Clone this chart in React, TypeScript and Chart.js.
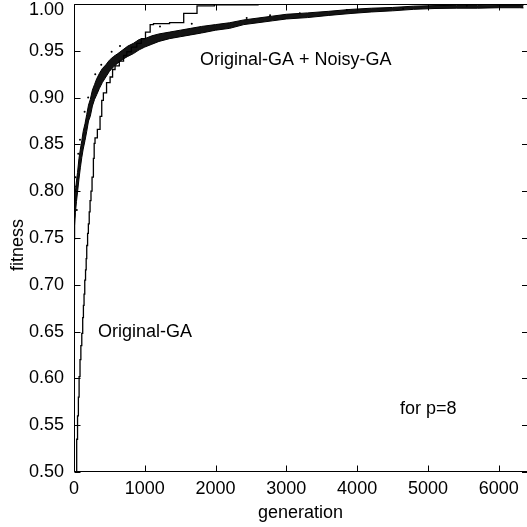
import React, { useEffect, useRef } from "react";
import { Chart, registerables } from "chart.js";

Chart.register(...registerables);

// ---- data ----
const xTickValues = [0, 1000, 2000, 3000, 4000, 5000, 6000];
const yTickValues = [0.5, 0.55, 0.6, 0.65, 0.7, 0.75, 0.8, 0.85, 0.9, 0.95, 1.0];

// Original-GA (best-so-far fitness, step curve)
const gaGen = [
  0, 38, 50, 62, 72, 85, 97, 110, 123, 133, 142, 152, 163, 172, 180, 192, 203, 215, 227, 240,
  255, 274, 285, 297, 330, 368, 392, 415, 460, 510, 545, 580, 640, 700, 746, 810, 887, 950,
  1010, 1076, 1123, 1350, 1550, 1738, 1983, 2600, 3100, 6400,
];
const gaFit = [
  0.3, 0.5, 0.535, 0.56, 0.58, 0.602, 0.62, 0.635, 0.648, 0.665, 0.678, 0.69, 0.705, 0.716,
  0.728, 0.742, 0.755, 0.765, 0.778, 0.79, 0.8, 0.815, 0.835, 0.851, 0.857, 0.866, 0.88, 0.897,
  0.905, 0.916, 0.922, 0.93, 0.934, 0.939, 0.945, 0.949, 0.954, 0.958, 0.963, 0.97, 0.978,
  0.979, 0.98, 0.99, 0.998, 0.999, 1.0, 1.0,
];

// Original-GA + Noisy-GA (noisy band: lower / upper envelope)
const noisyGen = [
  0, 10, 20, 35, 50, 70, 90, 110, 130, 155, 180, 205, 230, 260, 290, 320, 360, 400, 450, 500,
  560, 620, 690, 760, 840, 920, 1000, 1100, 1200, 1350, 1500, 1650, 1800, 2000, 2200, 2400,
  2600, 2800, 3000, 3300, 3600, 3900, 4200, 4500, 4800, 5100, 5400, 5700, 6000, 6300, 6350,
];
const noisyLow = [
  0.748, 0.763, 0.777, 0.789, 0.799, 0.813, 0.825, 0.836, 0.845, 0.854, 0.864, 0.875, 0.88,
  0.891, 0.898, 0.903, 0.91, 0.916, 0.922, 0.928, 0.933, 0.937, 0.941, 0.944, 0.947, 0.951,
  0.954, 0.957, 0.96, 0.963, 0.965, 0.967, 0.969, 0.972, 0.974, 0.978, 0.98, 0.982, 0.984,
  0.9855, 0.9878, 0.9898, 0.9915, 0.9927, 0.9943, 0.9952, 0.9955, 0.9955, 0.996, 0.996, 0.9958,
];
const noisyHigh = [
  0.772, 0.787, 0.8, 0.811, 0.82, 0.835, 0.845, 0.854, 0.864, 0.872, 0.882, 0.892, 0.898,
  0.908, 0.914, 0.92, 0.926, 0.931, 0.935, 0.94, 0.944, 0.947, 0.951, 0.955, 0.958, 0.962,
  0.963, 0.966, 0.968, 0.97, 0.972, 0.974, 0.976, 0.978, 0.98, 0.983, 0.985, 0.987, 0.989,
  0.9905, 0.9922, 0.9942, 0.9955, 0.9963, 0.9977, 0.9983, 0.9985, 0.9985, 0.999, 0.999, 0.9985,
];
// scattered noisy points lying off the dense band
const outlierGen = [85, 60, 150, 385, 532, 650, 1215, 1664, 2440, 2770, 3190, 3855, 4650, 5550, 300, 200, 20, 40, 5, 12];
const outlierFit = [0.855, 0.84, 0.885, 0.935, 0.949, 0.955, 0.976, 0.979, 0.985, 0.988, 0.99, 0.9936, 0.995, 0.998, 0.925, 0.9, 0.815, 0.78, 0.79, 0.805];

// text labels (data coordinates)
const annotationTexts = ["Original-GA + Noisy-GA", "Original-GA", "for p=8"];
const annotationGen = [1780, 339, 4606];
const annotationFit = [0.935, 0.644, 0.562];

const xTitle = "generation";
const yTitle = "fitness";

const FONT = '"Liberation Sans", Arial, Helvetica, sans-serif';

const framePlugin = {
  id: "frameAndText",
  afterDatasetsDraw(chart: any) {
    const { ctx, chartArea, scales } = chart;
    const { left, right, top, bottom } = chartArea;
    ctx.save();
    ctx.strokeStyle = "#000";
    ctx.lineWidth = 1;
    const L = Math.round(left) + 0.5;
    const B = Math.round(bottom) - 0.5;
    const T = Math.round(top) + 0.5;
    const R = Math.round(right) - 0.5;
    ctx.beginPath();
    ctx.moveTo(L, T);
    ctx.lineTo(R + 0.5, T);
    ctx.moveTo(L, T);
    ctx.lineTo(L, B);
    ctx.lineTo(R + 0.5, B);
    ctx.stroke();
    // inward ticks
    ctx.beginPath();
    const tl = 6;
    xTickValues.forEach((v) => {
      const px = Math.round(scales.x.getPixelForValue(v)) + 0.5;
      ctx.moveTo(px, B);
      ctx.lineTo(px, B - tl);
      ctx.moveTo(px, T);
      ctx.lineTo(px, T + tl);
    });
    yTickValues.forEach((v) => {
      const py = Math.round(scales.y.getPixelForValue(v)) + 0.5;
      ctx.moveTo(L, py);
      ctx.lineTo(L + tl, py);
      ctx.moveTo(right, py);
      ctx.lineTo(right - 5, py);
    });
    ctx.stroke();

    ctx.fillStyle = "#000";
    ctx.font = `18px ${FONT}`;

    // y tick labels (kept inside the picture at the top)
    ctx.textAlign = "right";
    ctx.textBaseline = "middle";
    yTickValues.forEach((v) => {
      const py = Math.max(scales.y.getPixelForValue(v), 10);
      ctx.fillText(v.toFixed(2), left - 10, py);
    });

    // annotations
    ctx.textBaseline = "alphabetic";
    ctx.textAlign = "left";
    annotationTexts.forEach((t, i) => {
      ctx.fillText(t, scales.x.getPixelForValue(annotationGen[i]), scales.y.getPixelForValue(annotationFit[i]));
    });
    ctx.textAlign = "center";
    ctx.fillText(xTitle, (left + right) / 2, 518);
    ctx.save();
    ctx.translate(18, 245);
    ctx.rotate(-Math.PI / 2);
    ctx.textBaseline = "middle";
    ctx.fillText(yTitle, 0, 0);
    ctx.restore();
    ctx.restore();
  },
};

export default function App() {
  const canvasRef = useRef<HTMLCanvasElement | null>(null);

  useEffect(() => {
    if (!canvasRef.current) return;
    const mk = (xs: number[], ys: number[]) => xs.map((x, i) => ({ x, y: ys[i] }));
    const chart = new Chart(canvasRef.current, {
      type: "line",
      data: {
        datasets: [
          {
            data: mk(noisyGen, noisyHigh),
            borderColor: "#000",
            borderWidth: 1,
            pointRadius: 0,
            tension: 0,
            fill: false,
          },
          {
            data: mk(noisyGen, noisyLow),
            borderColor: "#000",
            borderWidth: 1,
            pointRadius: 0,
            tension: 0,
            fill: "-1",
            backgroundColor: "rgba(0,0,0,0.92)",
          },
          {
            data: mk(outlierGen, outlierFit),
            showLine: false,
            pointRadius: 1,
            pointBorderWidth: 0,
            pointBackgroundColor: "#000",
            borderColor: "#000",
          },
          {
            data: mk(gaGen, gaFit),
            borderColor: "#000",
            borderWidth: 1.3,
            pointRadius: 0,
            stepped: "after",
            fill: false,
          },
        ],
      },
      options: {
        animation: false,
        responsive: false,
        devicePixelRatio: 1,
        layout: { padding: { top: 4, right: 0, bottom: 0, left: 0 }, autoPadding: false },
        plugins: { legend: { display: false }, tooltip: { enabled: false } },
        scales: {
          x: {
            type: "linear",
            min: 0,
            max: 6400,
            grid: { display: false, drawTicks: false },
            border: { display: false },
            afterBuildTicks: (s: any) => {
              s.ticks = xTickValues.map((v) => ({ value: v }));
            },
            afterFit: (s: any) => {
              s.height = 55;
              s.paddingLeft = 0;
              s.paddingRight = 0;
            },
            ticks: {
              padding: 6,
              color: "#000",
              font: { family: FONT, size: 18 },
              maxRotation: 0,
              autoSkip: false,
              callback: (v: any) => String(v),
            },
          },
          y: {
            type: "linear",
            min: 0.5,
            max: 1.0,
            grid: { display: false, drawTicks: false },
            border: { display: false },
            afterBuildTicks: (s: any) => {
              s.ticks = yTickValues.map((v) => ({ value: v }));
            },
            afterFit: (s: any) => {
              s.width = 74;
              s.paddingTop = 0;
              s.paddingBottom = 0;
            },
            ticks: { display: false },
          },
        },
      },
      plugins: [framePlugin],
    } as any);
    return () => chart.destroy();
  }, []);

  return (
    <div style={{ position: "absolute", left: 0, top: 0, width: 527, height: 527, background: "#fff" }}>
      <canvas ref={canvasRef} width={527} height={527} />
    </div>
  );
}
